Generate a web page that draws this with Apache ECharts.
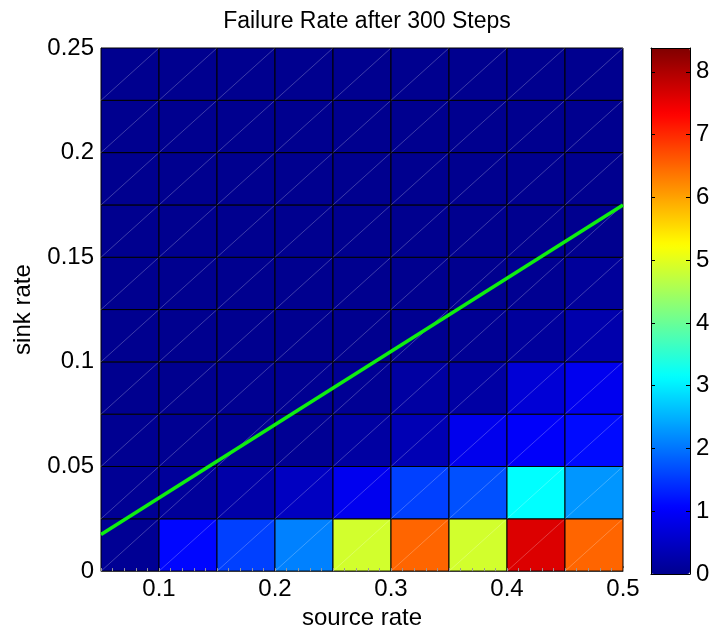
<!DOCTYPE html>
<html>
<head>
<meta charset="utf-8">
<script src="https://cdn.jsdelivr.net/npm/echarts@6/dist/echarts.min.js"></script>
<style>
  html, body { margin: 0; padding: 0; background: #fff; }
  #chart { width: 713px; height: 635px; }
</style>
</head>
<body>
<div id="chart"></div>
<script>
// lower-left corner of each cell (pcolor style)
var sourceRates = [0.05, 0.1, 0.15, 0.2, 0.25, 0.3, 0.35, 0.4, 0.45];
var sinkRates = [0, 0.025, 0.05, 0.075, 0.1, 0.125, 0.15, 0.175, 0.2, 0.225];
// failure rate, one row per sink rate (bottom to top)
var failRows = [
    [0.05, 1.1, 1.57, 2.1, 4.87, 6.51, 4.87, 7.62, 6.51],
    [0.05, 0.1, 0.23, 0.47, 0.9, 1.57, 1.7, 3.14, 2.28],
    [0.02, 0.03, 0.03, 0.05, 0.18, 0.35, 0.88, 1.0, 1.13],
    [0, 0, 0.02, 0.03, 0.05, 0.18, 0.2, 0.66, 0.9],
    [0, 0, 0, 0, 0, 0.02, 0.05, 0.12, 0.27],
    [0, 0, 0, 0, 0, 0, 0, 0.03, 0.1],
    [0, 0, 0, 0, 0, 0, 0, 0, 0],
    [0, 0, 0, 0, 0, 0, 0, 0, 0],
    [0, 0, 0, 0, 0, 0, 0, 0, 0],
    [0, 0, 0, 0, 0, 0, 0, 0, 0]
];
var xTicks = [0.1, 0.2, 0.3, 0.4, 0.5];
var lineX = [0.05, 0.5];
var lineY = [0.0175, 0.175];
var colorMax = 8.38;

var cellW = 0.05, cellH = 0.025;
var font = 'Liberation Sans, Arial, Helvetica, sans-serif';
var fs = 24;

var cells = [];
for (var i = 0; i < sinkRates.length; i++) {
    for (var j = 0; j < sourceRates.length; j++) {
        cells.push([sourceRates[j], sinkRates[i], failRows[i][j]]);
    }
}
var lineData = [];
for (var k = 0; k < lineX.length; k++) {
    lineData.push([lineX[k], lineY[k]]);
}

function renderCell(params, api) {
    var p0 = api.coord([api.value(0), api.value(1)]);
    var p1 = api.coord([api.value(0) + cellW, api.value(1) + cellH]);
    return {
        type: 'group',
        children: [{
            type: 'rect',
            shape: { x: p0[0], y: p1[1], width: p1[0] - p0[0], height: p0[1] - p1[1] },
            style: { fill: api.visual('color'), stroke: '#000', lineWidth: 1 }
        }, {
            type: 'line',
            shape: { x1: p0[0], y1: p0[1], x2: p1[0], y2: p1[1] },
            style: { stroke: 'rgba(255,255,255,0.3)', lineWidth: 0.8 }
        }]
    };
}

var chart = echarts.init(document.getElementById('chart'));
var option = {
    backgroundColor: '#fff',
    animation: false,
    title: {
        text: 'Failure Rate after 300 Steps',
        left: 362,
        top: 5,
        textAlign: 'center',
        textStyle: { fontFamily: font, fontSize: 23, fontWeight: 'normal', color: '#000' }
    },
    grid: [
        { left: 101, top: 48, width: 522, height: 526 },
        { left: 651, top: 48, width: 39, height: 526 }
    ],
    xAxis: [{
        type: 'value',
        gridIndex: 0,
        min: 0.05,
        max: 0.5,
        name: 'source rate',
        nameLocation: 'middle',
        nameGap: 31,
        nameTextStyle: { fontFamily: font, fontSize: fs, color: '#000' },
        axisLine: { show: true, lineStyle: { color: '#888', width: 1 } },
        axisTick: { show: true, inside: true, length: 5, customValues: xTicks, lineStyle: { color: '#888' } },
        axisLabel: { customValues: xTicks, margin: 6, fontFamily: font, fontSize: fs, color: '#000' },
        splitLine: { show: false }
    }, {
        // minor ticks along the bottom edge
        type: 'value', gridIndex: 0, min: 0.05, max: 0.5, interval: 0.01, position: 'bottom', z: 3,
        axisLine: { show: false },
        axisTick: { show: true, inside: true, length: 3, lineStyle: { color: '#999' } },
        axisLabel: { show: false }, splitLine: { show: false }
    }, {
        type: 'value', gridIndex: 1, min: 0, max: 1, position: 'bottom', z: 10,
        axisLine: { show: true, onZero: false, lineStyle: { color: '#000' } },
        axisTick: { show: false }, axisLabel: { show: false }, splitLine: { show: false }
    }, {
        type: 'value', gridIndex: 1, min: 0, max: 1, position: 'top', z: 10,
        axisLine: { show: true, onZero: false, lineStyle: { color: '#000' } },
        axisTick: { show: false }, axisLabel: { show: false }, splitLine: { show: false }
    }],
    yAxis: [{
        type: 'value',
        gridIndex: 0,
        min: 0,
        max: 0.25,
        interval: 0.05,
        name: 'sink rate',
        nameLocation: 'middle',
        nameGap: 66,
        nameTextStyle: { fontFamily: font, fontSize: fs, color: '#000' },
        axisLine: { show: true, lineStyle: { color: '#888', width: 1 } },
        axisTick: { show: true, inside: true, length: 5, lineStyle: { color: '#888' } },
        axisLabel: { margin: 7, fontFamily: font, fontSize: fs, color: '#000' },
        splitLine: { show: false }
    }, {
        type: 'value', gridIndex: 1, min: 0, max: colorMax, interval: 1, position: 'left', z: 10,
        axisLine: { show: true, onZero: false, lineStyle: { color: '#000' } },
        axisTick: { show: true, inside: true, length: 4, lineStyle: { color: '#000' } },
        axisLabel: { show: false }, splitLine: { show: false }
    }, {
        type: 'value', gridIndex: 1, min: 0, max: colorMax, interval: 1, position: 'right', z: 10,
        axisLine: { show: true, onZero: false, lineStyle: { color: '#000' } },
        axisTick: { show: true, inside: true, length: 4, lineStyle: { color: '#000' } },
        axisLabel: {
            margin: 6, fontFamily: font, fontSize: fs, color: '#000',
            showMaxLabel: false
        },
        splitLine: { show: false }
    }],
    visualMap: {
        type: 'continuous',
        min: 0,
        max: colorMax,
        dimension: 2,
        seriesIndex: 0,
        calculable: false,
        hoverLink: false,
        orient: 'vertical',
        left: 651,
        top: 48,
        padding: 0,
        itemWidth: 39,
        itemHeight: 526,
        text: null,
        inRange: {
            color: ['#00008f', '#0000ff', '#0080ff', '#00ffff', '#80ff80',
                    '#ffff00', '#ff8000', '#ff0000', '#800000']
        }
    },
    series: [{
        type: 'custom',
        xAxisIndex: 0,
        yAxisIndex: 0,
        renderItem: renderCell,
        encode: { x: 0, y: 1 },
        data: cells
    }, {
        type: 'line',
        xAxisIndex: 0,
        yAxisIndex: 0,
        data: lineData,
        symbol: 'none',
        z: 5,
        lineStyle: { color: '#10ee10', width: 3.5 }
    }]
};
chart.setOption(option);
window.addEventListener('resize', function () {
    chart.resize();
});
</script>
</body>
</html>
